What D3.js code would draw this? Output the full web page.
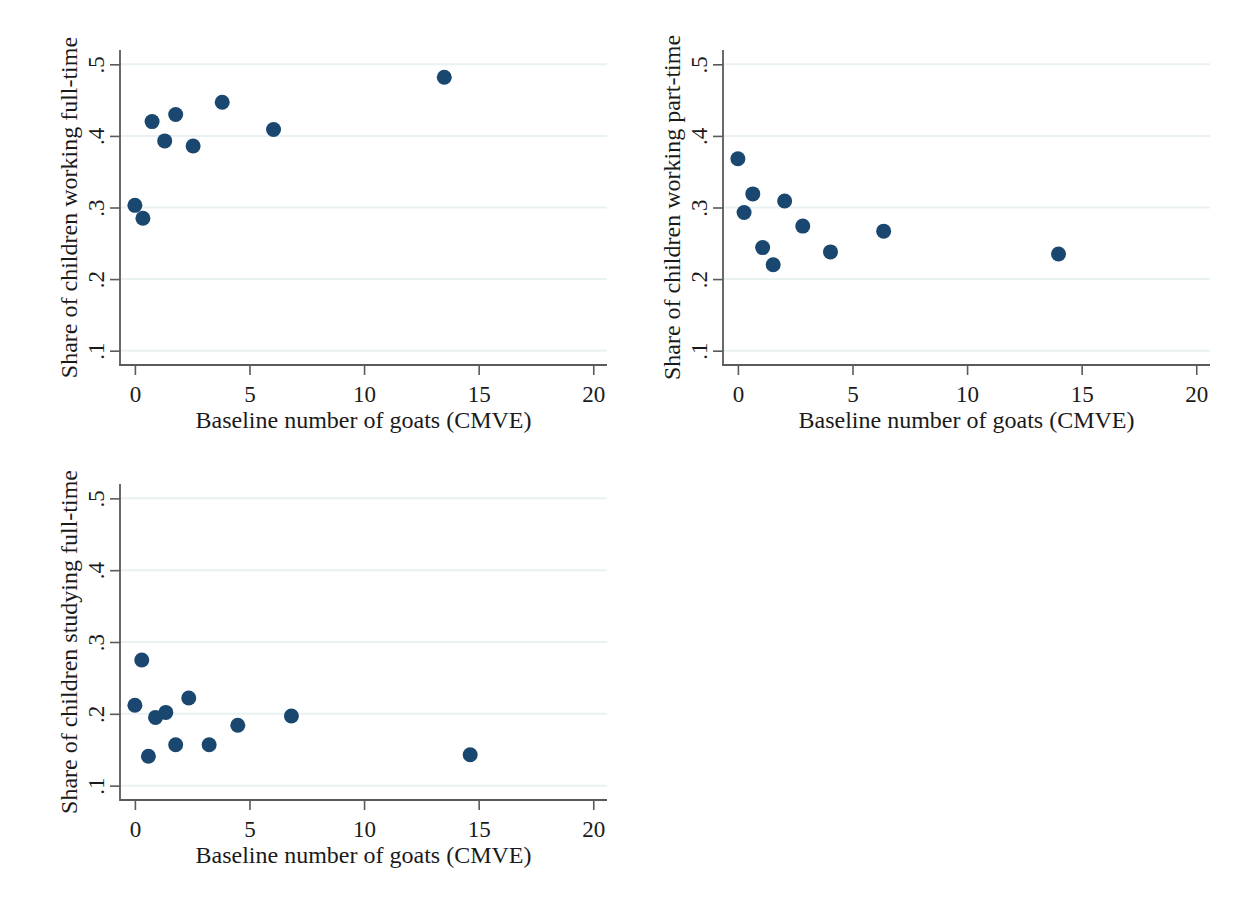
<!DOCTYPE html>
<html>
<head>
<meta charset="utf-8">
<script src="https://cdn.jsdelivr.net/npm/d3@7"></script>
<style>
  html, body { margin: 0; padding: 0; background: #ffffff; }
  svg { display: block; }
  text { font-family: "Liberation Serif", "Times New Roman", serif; fill: #1a1a1a; }
</style>
</head>
<body>
<svg id="chart" width="1253" height="909"></svg>
<script>
// Baseline goats (CMVE) and share of children per group
const goatsFullWork = [0, 0.35, 0.75, 1.30, 1.78, 2.54, 3.81, 6.05, 13.5];
const shareFullWork = [0.303, 0.285, 0.420, 0.393, 0.430, 0.386, 0.447, 0.409, 0.482];

const goatsPartWork = [0, 0.27, 0.65, 1.08, 1.54, 2.04, 2.83, 4.04, 6.36, 13.99];
const sharePartWork = [0.368, 0.293, 0.319, 0.244, 0.220, 0.309, 0.274, 0.238, 0.267, 0.235];

const goatsStudy = [0, 0.30, 0.59, 0.90, 1.35, 1.78, 2.35, 3.24, 4.49, 6.83, 14.63];
const shareStudy = [0.212, 0.275, 0.141, 0.195, 0.202, 0.157, 0.222, 0.157, 0.184, 0.197, 0.143];

const xTicks = [0, 5, 10, 15, 20];
const yTicks = [0.1, 0.2, 0.3, 0.4, 0.5];
const yTickLabels = [".1", ".2", ".3", ".4", ".5"];

const xTitle = "Baseline number of goats (CMVE)";
const panels = [
  { title: "Share of children working full-time", xs: goatsFullWork, ys: shareFullWork,
    left: 120, right: 607, top: 50, bottom: 365 },
  { title: "Share of children working part-time", xs: goatsPartWork, ys: sharePartWork,
    left: 723, right: 1210, top: 50, bottom: 365 },
  { title: "Share of children studying full-time", xs: goatsStudy, ys: shareStudy,
    left: 120, right: 607, top: 484, bottom: 800 }
];

const svg = d3.select("#chart");
const markerColor = "#1a476f";
const gridColor = "#eaf1f3";
const axisColor = "#5a5a5a";

panels.forEach(p => {
  const x = d3.scaleLinear().domain([-0.65, 20.6]).range([p.left, p.right]);
  const y = d3.scaleLinear().domain([0.08, 0.52]).range([p.bottom, p.top]);
  const g = svg.append("g");

  // horizontal gridlines
  g.selectAll("line.grid").data(yTicks).join("line")
    .attr("class", "grid")
    .attr("x1", p.left).attr("x2", p.right)
    .attr("y1", d => y(d)).attr("y2", d => y(d))
    .attr("stroke", gridColor).attr("stroke-width", 2);

  // y axis
  const yAxis = d3.axisLeft(y).tickValues(yTicks).tickSize(10).tickPadding(0)
    .tickFormat((d, i) => yTickLabels[i]);
  const ya = g.append("g").attr("transform", `translate(${p.left},0)`).call(yAxis);
  ya.select(".domain").remove();
  ya.selectAll(".tick line").attr("stroke", axisColor).attr("stroke-width", 1.6);
  ya.selectAll(".tick text")
    .attr("x", 0).attr("dy", null)
    .attr("transform", "translate(-16,0) rotate(-90)")
    .attr("text-anchor", "middle")
    .style("font-size", "23px")
    .style("font-family", "Liberation Serif, serif")
    .attr("fill", "#1a1a1a");

  // x axis
  const xAxis = d3.axisBottom(x).tickValues(xTicks).tickSize(10).tickPadding(11);
  const xa = g.append("g").attr("transform", `translate(0,${p.bottom})`).call(xAxis);
  xa.select(".domain").remove();
  xa.selectAll(".tick line").attr("stroke", axisColor).attr("stroke-width", 1.6);
  xa.selectAll(".tick text")
    .style("font-size", "23px")
    .style("font-family", "Liberation Serif, serif")
    .attr("fill", "#1a1a1a");

  // axis lines
  g.append("line").attr("x1", p.left).attr("x2", p.left)
    .attr("y1", p.top).attr("y2", p.bottom + 0.8)
    .attr("stroke", axisColor).attr("stroke-width", 1.8);
  g.append("line").attr("x1", p.left - 0.8).attr("x2", p.right)
    .attr("y1", p.bottom).attr("y2", p.bottom)
    .attr("stroke", axisColor).attr("stroke-width", 1.8);

  // axis titles
  g.append("text")
    .attr("x", (p.left + p.right) / 2).attr("y", p.bottom + 63)
    .attr("text-anchor", "middle")
    .style("font-size", "24px")
    .text(xTitle);
  g.append("text")
    .attr("transform", `translate(${p.left - 43},${(p.top + p.bottom) / 2}) rotate(-90)`)
    .attr("text-anchor", "middle")
    .style("font-size", "24px")
    .text(p.title);

  // points
  const pts = p.xs.map((v, i) => ({ gx: v, sh: p.ys[i] }));
  g.selectAll("circle").data(pts).join("circle")
    .attr("cx", d => x(d.gx)).attr("cy", d => y(d.sh))
    .attr("r", 7.5)
    .attr("fill", markerColor);
});
</script>
</body>
</html>
